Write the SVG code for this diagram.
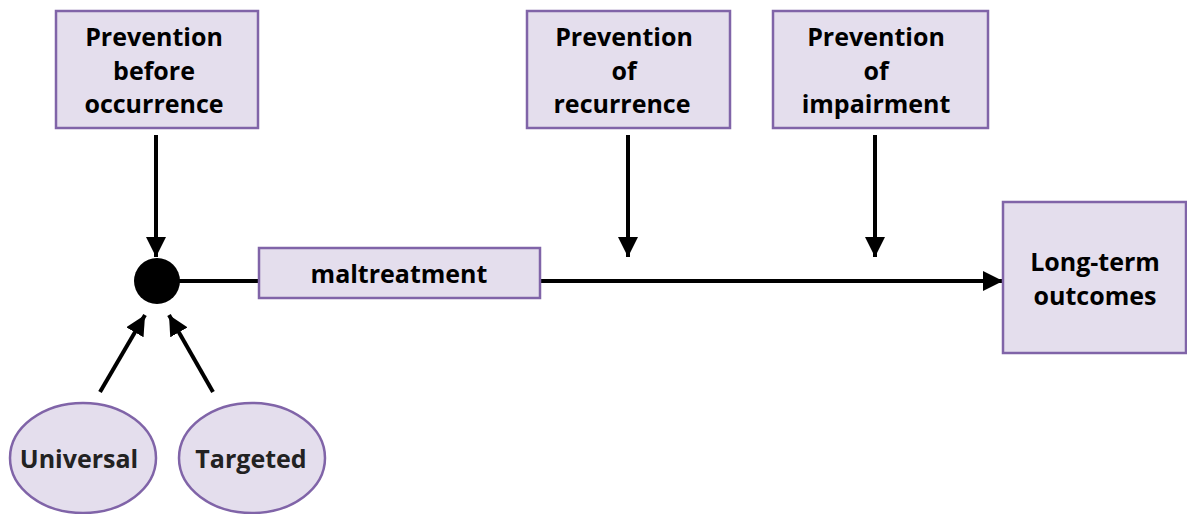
<svg xmlns="http://www.w3.org/2000/svg" width="1187" height="514" viewBox="0 0 1187 514">
<style>
.box{fill:#e4deed;stroke:#8064a8;stroke-width:2.5}
.t{font-family:"Open Sans","Liberation Sans",sans-serif;font-weight:bold;font-size:25px;text-anchor:middle;fill:#000}
.e{fill:#222}
.c{stroke:#000;stroke-width:4;fill:none}
</style>
<defs>
<marker id="ah" viewBox="0 0 10 10" refX="10" refY="5" markerWidth="5" markerHeight="5" markerUnits="strokeWidth" orient="auto">
<path d="M0,0 L10,5 L0,10 z" fill="#000"/>
</marker>
</defs>
<g id="connectors">
<line class="c" x1="156" y1="135" x2="156" y2="257" marker-end="url(#ah)"/>
<line class="c" x1="628" y1="135" x2="628" y2="257" marker-end="url(#ah)"/>
<line class="c" x1="875" y1="135" x2="875" y2="257" marker-end="url(#ah)"/>
<line class="c" x1="100" y1="392" x2="145" y2="315" marker-end="url(#ah)"/>
<line class="c" x1="213" y1="392" x2="169" y2="315" marker-end="url(#ah)"/>
<line class="c" x1="175" y1="281" x2="259" y2="281"/>
<line class="c" x1="540" y1="281" x2="1003" y2="281" marker-end="url(#ah)"/>
</g>
<g id="junction"><circle cx="157" cy="281" r="23" fill="#000"/></g>
<g id="prev-before">
<rect class="box" x="56" y="11" width="202" height="117"/>
<text class="t" x="154" y="46">Prevention</text>
<text class="t" x="154" y="80">before</text>
<text class="t" x="154" y="113">occurrence</text>
</g>
<g id="prev-recurrence">
<rect class="box" x="527" y="11" width="203" height="117"/>
<text class="t" x="624" y="46">Prevention</text>
<text class="t" x="624" y="80">of</text>
<text class="t" x="622" y="113">recurrence</text>
</g>
<g id="prev-impairment">
<rect class="box" x="773" y="11" width="215" height="117"/>
<text class="t" x="876" y="46">Prevention</text>
<text class="t" x="876" y="80">of</text>
<text class="t" x="876" y="113">impairment</text>
</g>
<g id="maltreatment">
<rect class="box" x="259" y="248" width="281" height="50"/>
<text class="t" x="399" y="283">maltreatment</text>
</g>
<g id="outcomes">
<rect class="box" x="1003" y="202" width="183" height="151"/>
<text class="t" x="1095" y="271">Long-term</text>
<text class="t" x="1095" y="305">outcomes</text>
</g>
<g id="universal">
<ellipse class="box" cx="83" cy="458" rx="73" ry="55"/>
<text class="t e" x="79" y="468" font-size="22">Universal</text>
</g>
<g id="targeted">
<ellipse class="box" cx="252" cy="458" rx="73" ry="55"/>
<text class="t e" x="251" y="468" font-size="22">Targeted</text>
</g>
</svg>
